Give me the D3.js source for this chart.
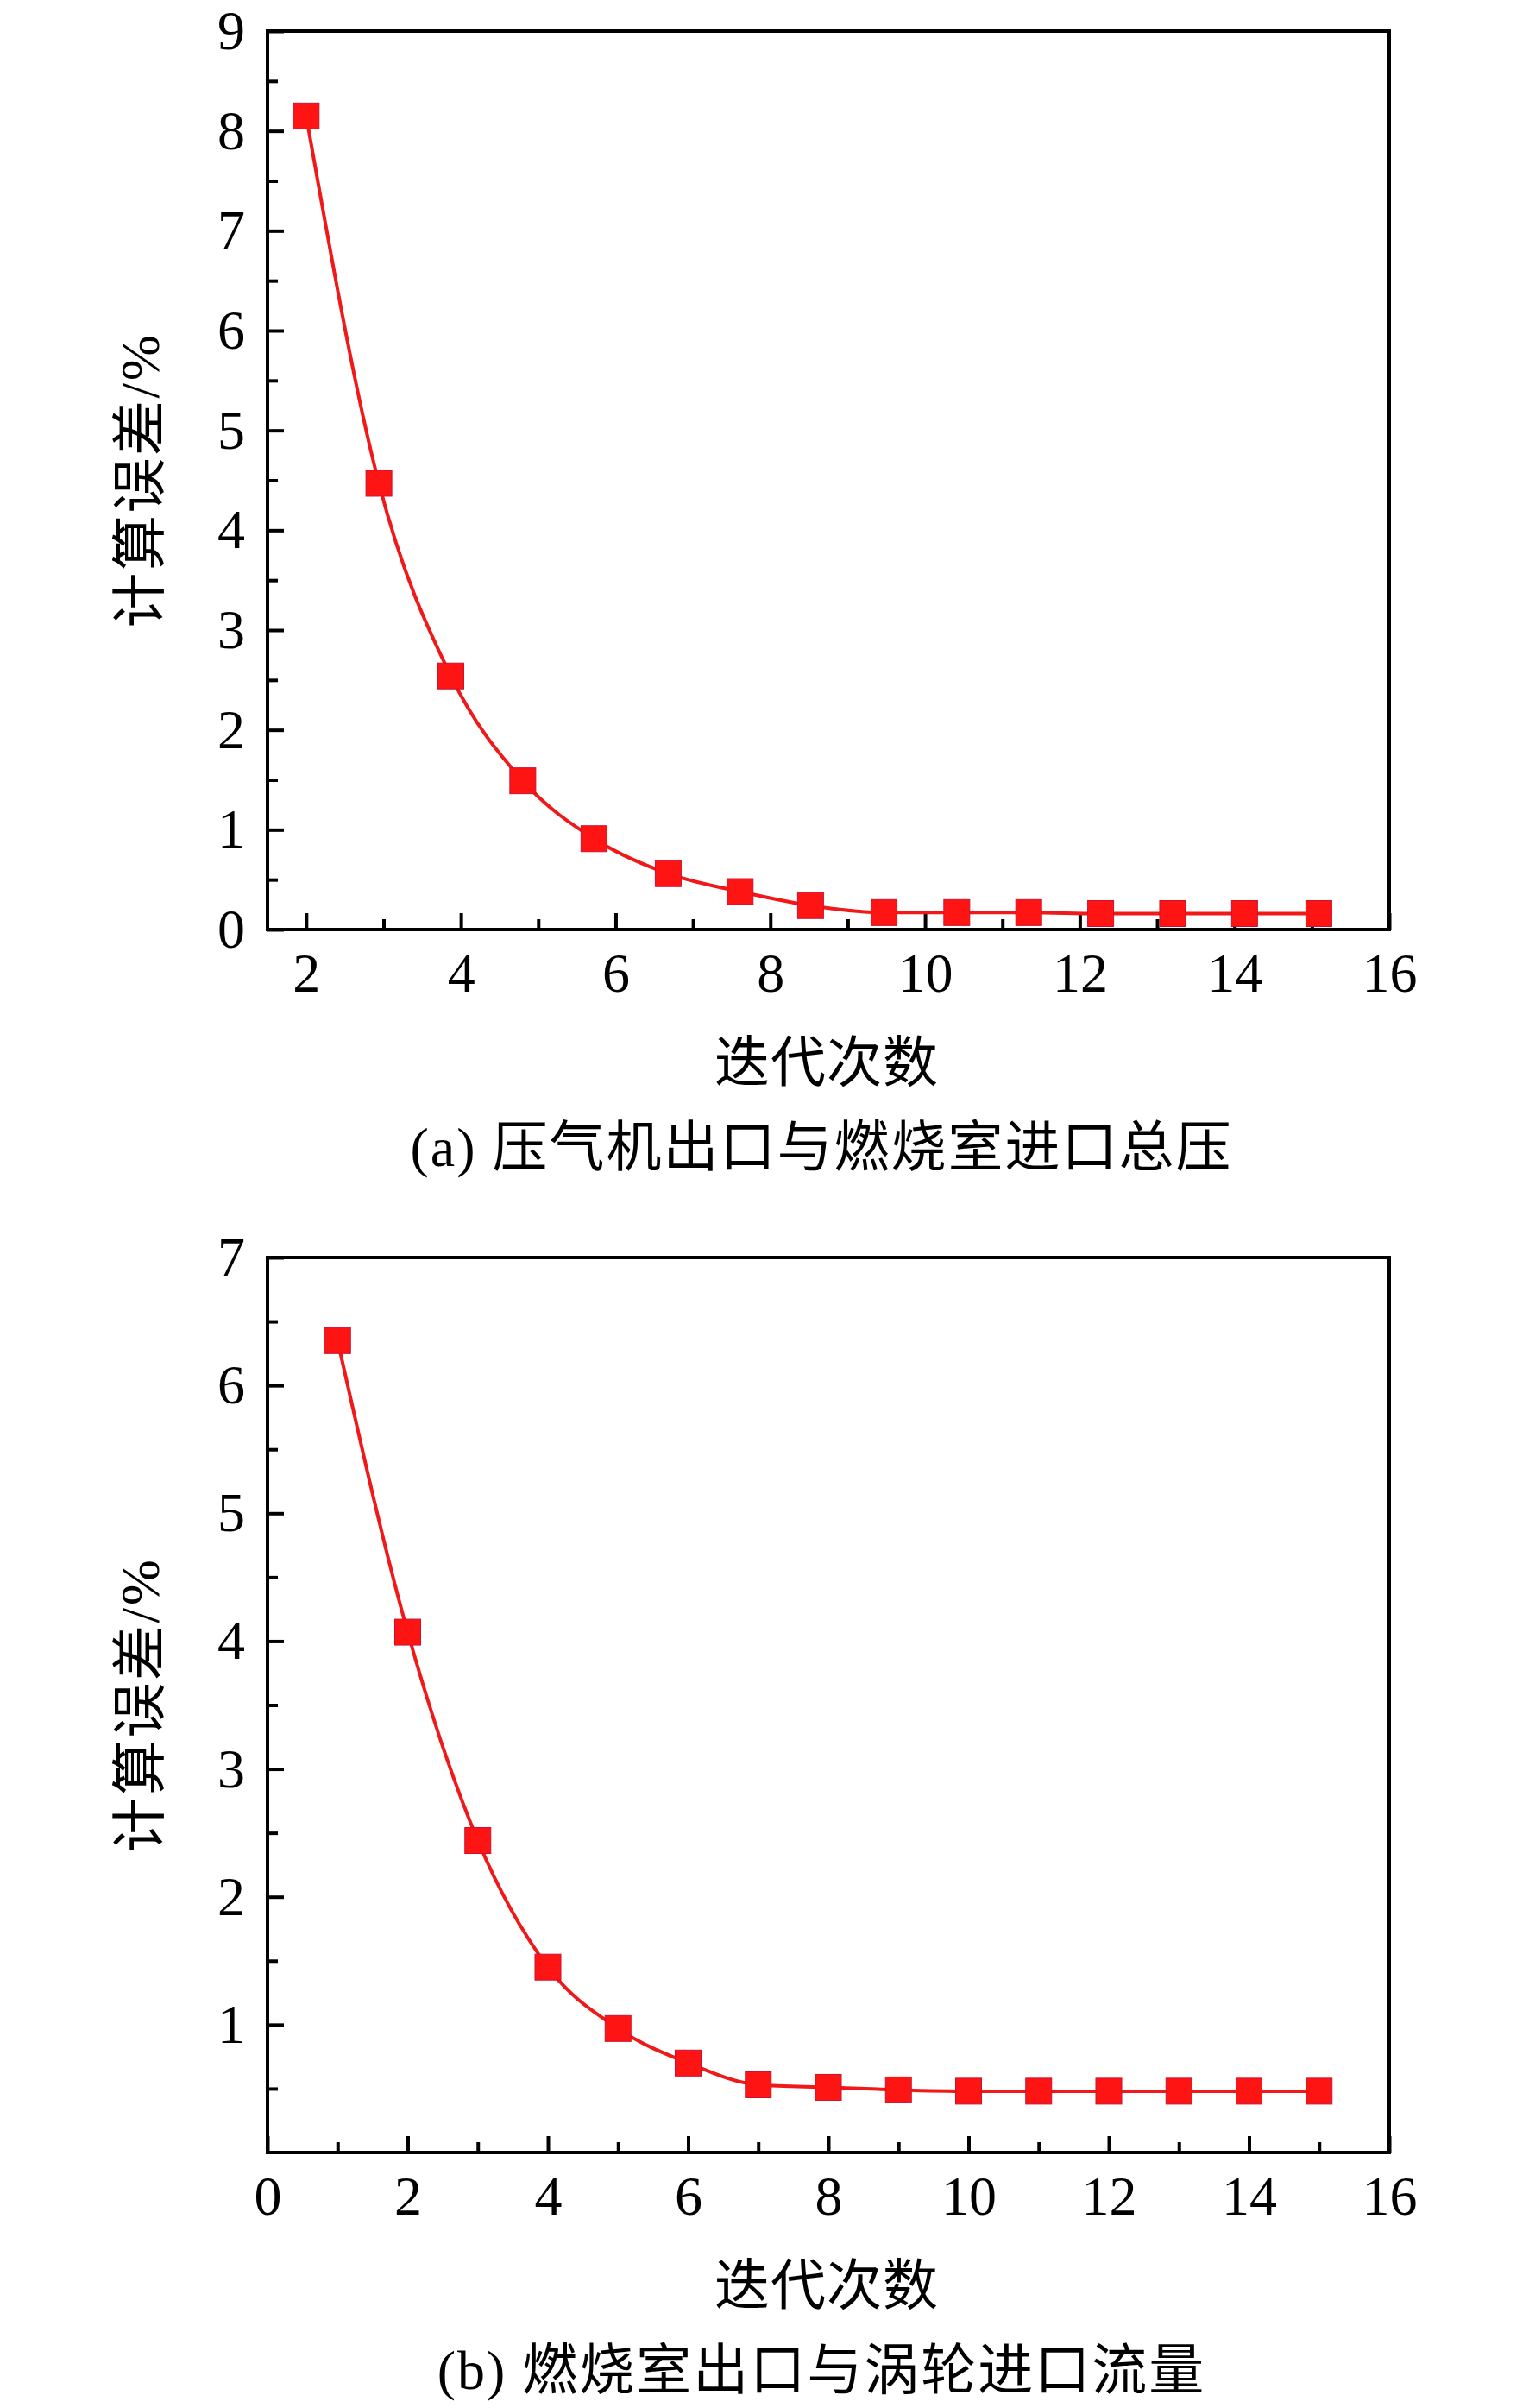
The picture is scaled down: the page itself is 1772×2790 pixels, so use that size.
<!DOCTYPE html>
<html lang="zh">

<head>
  <meta charset="UTF-8">
  <title>计算误差与迭代次数</title>
  <script src="https://d3js.org/d3.v7.min.js"></script>
  <style>
    body {
      margin: 0;
      background: white;
    }

    svg {
      display: block;
      background-color: white;
    }

    text {
      font-family: "Liberation Serif", "Times New Roman", "Noto Sans CJK SC", serif;
      fill: black;
    }
  </style>
</head>

<body>
  <div id="chart"></div>

  <script>
    // (a) 压气机出口与燃烧室进口总压
    const iterA = [2, 2.94, 3.87, 4.80, 5.72, 6.68, 7.61, 8.52, 9.47, 10.41, 11.34, 12.27, 13.2, 14.13, 15.09]
    const errA = [8.15, 4.47, 2.54, 1.49, 0.91, 0.56, 0.38, 0.24, 0.17, 0.17, 0.17, 0.16, 0.16, 0.16, 0.16]
    const xTicksA = [2, 4, 6, 8, 10, 12, 14, 16]
    const xMinorA = [3, 5, 7, 9, 11, 13, 15]
    const yTicksA = [0, 1, 2, 3, 4, 5, 6, 7, 8, 9]
    const yMinorA = [0.5, 1.5, 2.5, 3.5, 4.5, 5.5, 6.5, 7.5, 8.5]

    // (b) 燃烧室出口与涡轮进口流量
    const iterB = [1, 2, 3, 4, 5, 6, 7, 8, 9, 10, 11, 12, 13, 14, 15]
    const errB = [6.35, 4.07, 2.44, 1.45, 0.97, 0.70, 0.53, 0.51, 0.49, 0.48, 0.48, 0.48, 0.48, 0.48, 0.48]
    const xTicksB = [0, 2, 4, 6, 8, 10, 12, 14, 16]
    const xMinorB = [1, 3, 5, 7, 9, 11, 13, 15]
    const yTicksB = [1, 2, 3, 4, 5, 6, 7]
    const yMinorB = [0.5, 1.5, 2.5, 3.5, 4.5, 5.5, 6.5]

    const yTitle = '计算误差/%'
    const xTitle = '迭代次数'

    const width = 1772
    const height = 2790
    const fontSize = 64
    const red = '#ff1414'

    const svg = d3.select('#chart')
      .append('svg')
      .attr('width', width)
      .attr('height', height)

    const drawPanel = (p) => {
      const x = d3.scaleLinear().domain(p.xDomain).range([310, 1610])
      const y = d3.scaleLinear().domain(p.yDomain).range([p.bottom, p.top])

      const g = svg.append('g')

      const styleAxis = sel => {
        sel.select('.domain').remove()
        sel.attr('font-family', null).attr('font-size', fontSize)
        sel.selectAll('line').attr('stroke', 'black').attr('stroke-width', 4)
      }

      // major + minor ticks, pointing inward
      g.append('g')
        .attr('transform', `translate(0,${p.bottom})`)
        .call(d3.axisBottom(x).tickValues(p.xTicks).tickSize(-19).tickPadding(27).tickFormat(d3.format('d')))
        .call(styleAxis)
      g.append('g')
        .attr('transform', `translate(0,${p.bottom})`)
        .call(d3.axisBottom(x).tickValues(p.xMinor).tickSize(-12).tickFormat(''))
        .call(styleAxis)
      g.append('g')
        .attr('transform', 'translate(310,0)')
        .call(d3.axisLeft(y).tickValues(p.yTicks).tickSize(-19).tickPadding(26).tickFormat(d3.format('d')))
        .call(styleAxis)
      g.append('g')
        .attr('transform', 'translate(310,0)')
        .call(d3.axisLeft(y).tickValues(p.yMinor).tickSize(-12).tickFormat(''))
        .call(styleAxis)

      const pts = p.xs.map((d, i) => [d, p.ys[i]])

      g.append('path')
        .datum(pts)
        .attr('fill', 'none')
        .attr('stroke', '#f01818')
        .attr('stroke-width', 4)
        .attr('d', d3.line().x(d => x(d[0])).y(d => y(d[1])).curve(d3.curveMonotoneX))

      g.selectAll('.pt')
        .data(pts)
        .enter()
        .append('rect')
        .attr('class', 'pt')
        .attr('x', d => x(d[0]) - 15)
        .attr('y', d => y(d[1]) - 15)
        .attr('width', 30)
        .attr('height', 30)
        .attr('fill', red)
        .attr('stroke', '#cc1030')
        .attr('stroke-width', 1)

      // frame
      g.append('rect')
        .attr('x', 310)
        .attr('y', p.top)
        .attr('width', 1300)
        .attr('height', p.bottom - p.top)
        .attr('fill', 'none')
        .attr('stroke', 'black')
        .attr('stroke-width', 4)

      g.append('text')
        .attr('transform', `translate(184,${(p.top + p.bottom) / 2}) rotate(-90)`)
        .attr('text-anchor', 'middle')
        .attr('font-size', fontSize)
        .attr('letter-spacing', 2.5)
        .text(yTitle)

      g.append('text')
        .attr('x', 958)
        .attr('y', p.bottom + 176)
        .attr('text-anchor', 'middle')
        .attr('font-size', fontSize)
        .attr('letter-spacing', 1)
        .text(xTitle)

      g.append('text')
        .attr('x', 952)
        .attr('y', p.bottom + 274)
        .attr('text-anchor', 'middle')
        .attr('font-size', fontSize)
        .attr('letter-spacing', 2)
        .text(p.caption)
    }

    drawPanel({
      xs: iterA, ys: errA,
      xDomain: [1.5, 16], yDomain: [0, 9],
      xTicks: xTicksA, xMinor: xMinorA, yTicks: yTicksA, yMinor: yMinorA,
      top: 36, bottom: 1077,
      caption: '(a) 压气机出口与燃烧室进口总压'
    })

    drawPanel({
      xs: iterB, ys: errB,
      xDomain: [0, 16], yDomain: [0, 7],
      xTicks: xTicksB, xMinor: xMinorB, yTicks: yTicksB, yMinor: yMinorB,
      top: 1457, bottom: 2494,
      caption: '(b) 燃烧室出口与涡轮进口流量'
    })
  </script>
</body>

</html>
